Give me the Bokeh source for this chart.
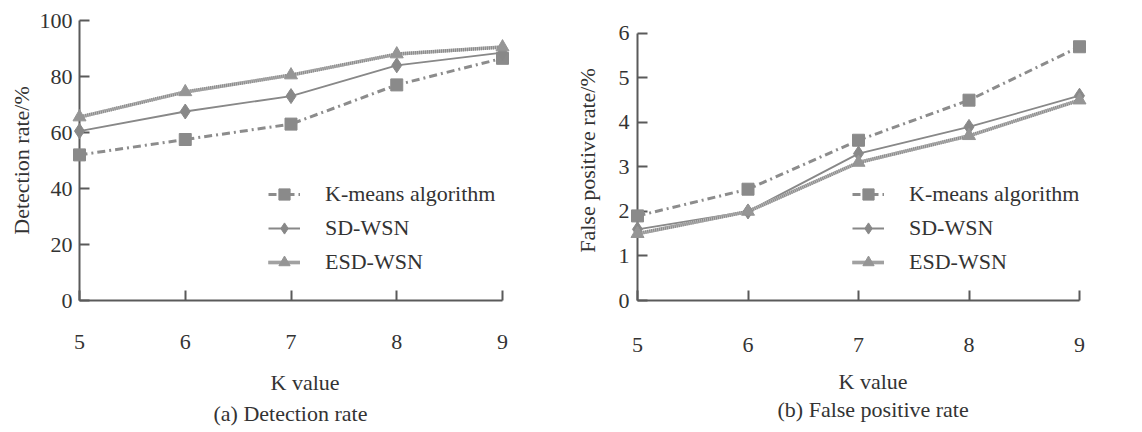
from bokeh.plotting import figure
from bokeh.layouts import row
from bokeh.models import Range1d, Legend, LegendItem, Title, FixedTicker
from bokeh.embed import file_html
from bokeh.resources import INLINE

# ---- data ----
k_values = [5, 6, 7, 8, 9]
series_names = ["K-means algorithm", "SD-WSN", "ESD-WSN"]

det_kmeans = [52, 57.5, 63, 77, 86.5]
det_sdwsn = [60.5, 67.5, 73, 84, 88.5]
det_esdwsn = [65.5, 74.5, 80.5, 88, 90.5]

fp_kmeans = [1.9, 2.5, 3.6, 4.5, 5.7]
fp_sdwsn = [1.6, 2.0, 3.3, 3.9, 4.6]
fp_esdwsn = [1.5, 2.0, 3.1, 3.7, 4.5]

det_ticks = [0, 20, 40, 60, 80, 100]
fp_ticks = [0, 1, 2, 3, 4, 5, 6]
x_ticks = [5, 6, 7, 8, 9]

x_label = "K value"

FONT = "Liberation Serif"
TXT = "#333333"
AX = "#5a5a5a"
FS = "22px"


def make_panel(width, height, ymax, yend, yticks, ylabel, caption, series,
               left, right, legend_xy, xtick_standoff,
               ytick_standoff, ylab_standoff,
               klab_offset, klab_standoff, cap_offset, cap_standoff):
    p = figure(width=width, height=height, output_backend="svg",
               toolbar_location=None, title=None,
               x_range=Range1d(5, 9), y_range=Range1d(0, yend),
               min_border_top=20, min_border_left=left,
               min_border_right=right, min_border_bottom=130)
    p.outline_line_color = None
    p.xgrid.visible = False
    p.ygrid.visible = False
    p.background_fill_color = "white"
    p.border_fill_color = "white"

    xa = p.xaxis[0]
    xa.ticker = FixedTicker(ticks=x_ticks)
    ya = p.yaxis[0]
    ya.ticker = FixedTicker(ticks=yticks)
    ya.bounds = (0, ymax)
    ya.axis_label = ylabel
    for ax in (xa, ya):
        ax.axis_line_color = AX
        ax.axis_line_width = 2
        ax.major_tick_line_color = AX
        ax.major_tick_line_width = 2
        ax.major_tick_in = 10
        ax.major_tick_out = 0
        ax.minor_tick_line_color = None
        ax.major_label_text_font = FONT
        ax.major_label_text_font_size = FS
        ax.major_label_text_color = TXT
        ax.axis_label_text_font = FONT
        ax.axis_label_text_font_size = FS
        ax.axis_label_text_font_style = "normal"
        ax.axis_label_text_color = TXT
    xa.major_label_standoff = xtick_standoff
    ya.major_label_standoff = ytick_standoff
    ya.axis_label_standoff = ylab_standoff

    items = []
    # K-means: dash-dot line with squares
    ys = series[0]
    l1 = p.line(k_values, ys, line_width=3, line_color="#8c8c8c",
                line_dash="8 4 2 4")
    s1 = p.scatter(k_values, ys, marker="square", size=12,
                   fill_color="#8a8a8a", line_color="#8a8a8a", level="overlay")
    items.append(LegendItem(label=series_names[0], renderers=[l1, s1]))
    # SD-WSN: solid thin line with diamonds
    ys = series[1]
    l2 = p.line(k_values, ys, line_width=1.8, line_color="#888888")
    s2 = p.scatter(k_values, ys, marker="diamond", size=15,
                   fill_color="#888888", line_color="#888888", level="overlay")
    items.append(LegendItem(label=series_names[1], renderers=[l2, s2]))
    # ESD-WSN: textured thick line with triangles
    ys = series[2]
    l3a = p.line(k_values, ys, line_width=3.5, line_color="#b8b8b8")
    l3b = p.line(k_values, ys, line_width=3.5, line_color="#8a8a8a",
                 line_dash="1 1")
    s3 = p.scatter(k_values, ys, marker="triangle", size=13,
                   fill_color="#959595", line_color="#959595", level="overlay")
    items.append(LegendItem(label=series_names[2], renderers=[l3a, l3b, s3]))

    leg = Legend(items=items, location=legend_xy)
    leg.border_line_alpha = 0
    leg.background_fill_alpha = 0
    leg.padding = 0
    leg.margin = 0
    leg.spacing = 6
    leg.label_height = 28
    leg.glyph_height = 28
    leg.glyph_width = 32
    leg.label_standoff = 25
    leg.label_text_font = FONT
    leg.label_text_font_size = FS
    leg.label_text_color = TXT
    p.add_layout(leg)

    tk = Title(text=x_label, align="left", text_font=FONT,
               text_font_size=FS, text_font_style="normal",
               text_color=TXT, standoff=klab_standoff, offset=klab_offset)
    p.add_layout(tk, "below")
    tc = Title(text=caption, align="left", text_font=FONT,
               text_font_size=FS, text_font_style="normal",
               text_color=TXT, standoff=cap_standoff, offset=cap_offset)
    p.add_layout(tc, "below")
    return p


p1 = make_panel(570, 430, 100, 100, det_ticks, "Detection rate/%",
                "(a) Detection rate", [det_kmeans, det_sdwsn, det_esdwsn],
                left=79, right=68, legend_xy=(189, 24),
                xtick_standoff=34, ytick_standoff=7, ylab_standoff=3,
                klab_offset=191, klab_standoff=32,
                cap_offset=134, cap_standoff=-24)
p2 = make_panel(570, 430, 6, 6.29, fp_ticks, "False positive rate/%",
                "(b) False positive rate", [fp_kmeans, fp_sdwsn, fp_esdwsn],
                left=67, right=61, legend_xy=(215, 24),
                xtick_standoff=37, ytick_standoff=8, ylab_standoff=16,
                klab_offset=201, klab_standoff=24,
                cap_offset=140, cap_standoff=-22)

layout = row(p1, p2)
open("out.html", "w").write(file_html(layout, INLINE))
